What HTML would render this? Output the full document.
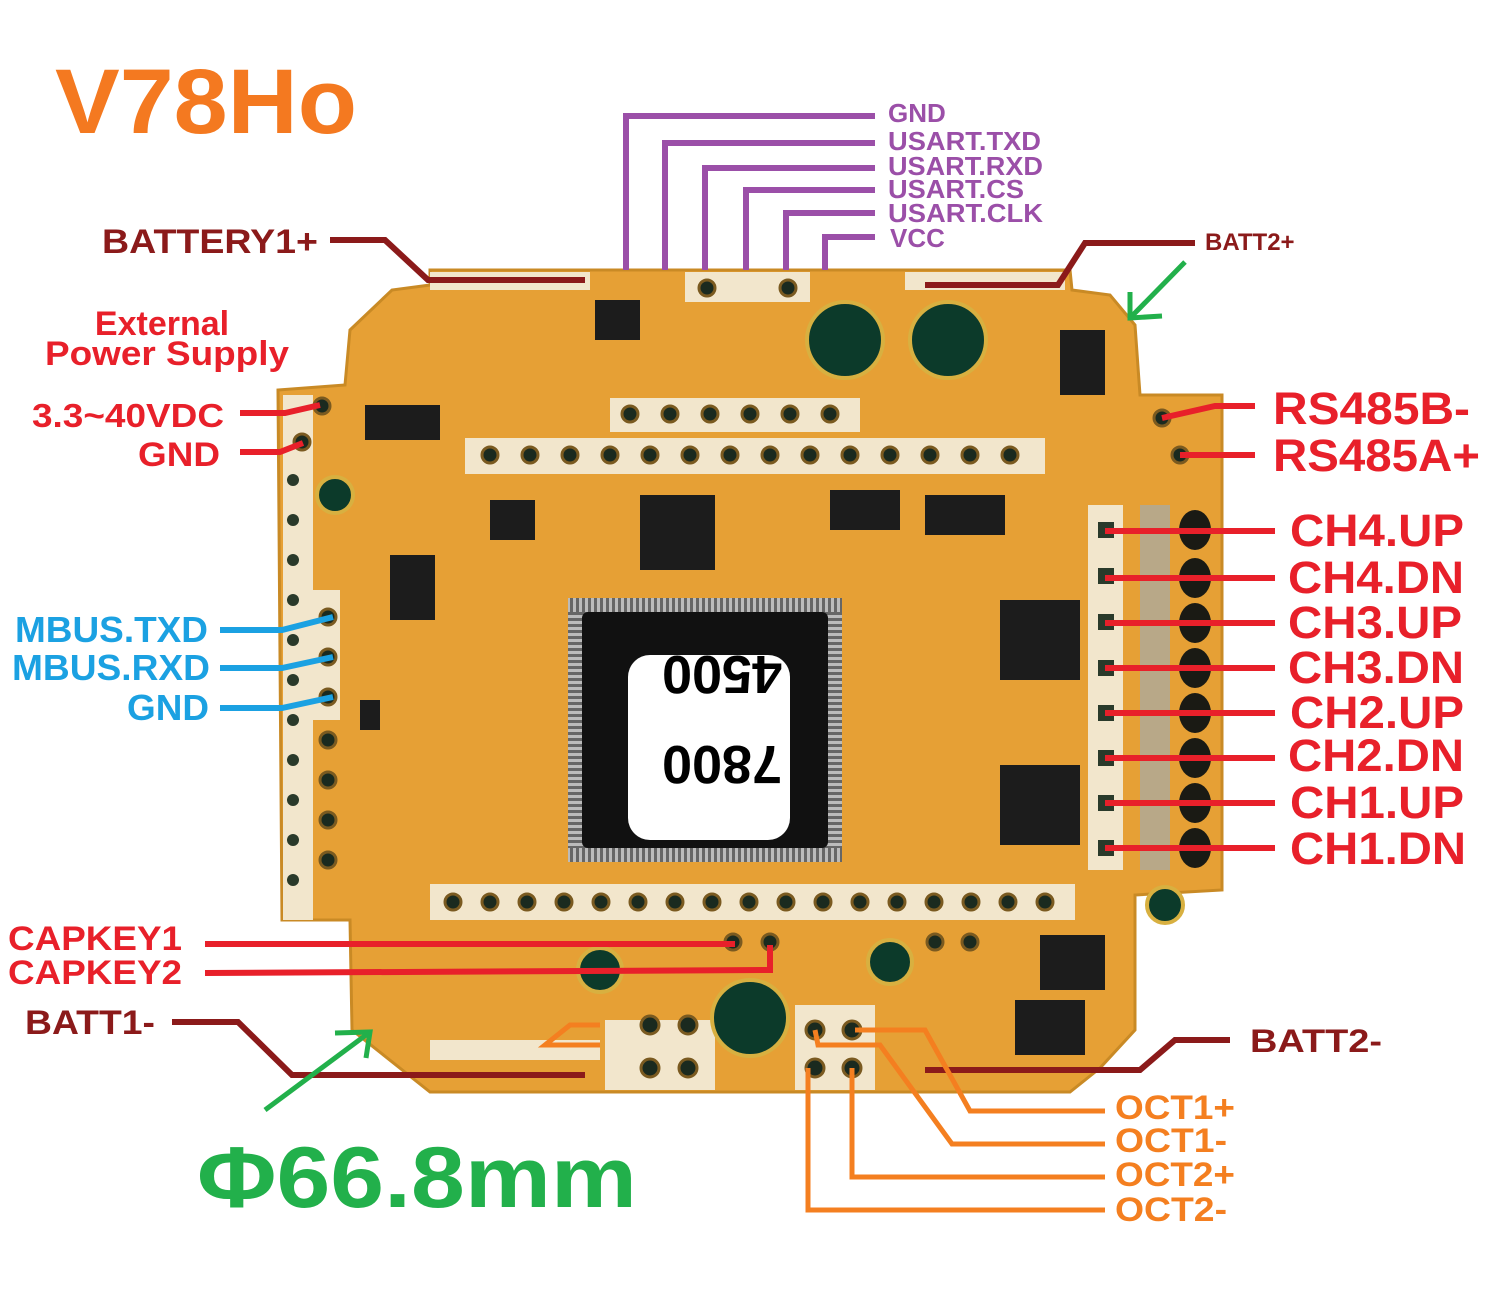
<!DOCTYPE html>
<html><head><meta charset="utf-8"><style>
html,body{margin:0;padding:0;background:#fff;}
svg{display:block;}
text{font-family:"Liberation Sans",sans-serif;font-weight:bold;}
</style></head><body>
<svg width="1495" height="1314" viewBox="0 0 1495 1314" xmlns="http://www.w3.org/2000/svg">
<defs>
<pattern id="pins" width="6" height="6" patternUnits="userSpaceOnUse"><rect width="6" height="6" fill="#bbb"/><rect width="3" height="6" fill="#666"/></pattern>
<pattern id="pinsv" width="6" height="6" patternUnits="userSpaceOnUse"><rect width="6" height="6" fill="#bbb"/><rect width="6" height="3" fill="#666"/></pattern>
</defs>
<polygon points="430,270 1070,270 1072,290 1110,295 1135,325 1140,395 1222,395 1222,890 1135,895 1135,1030 1100,1068 1070,1092 430,1092 352,1030 350,920 282,920 278,390 345,385 350,330 392,290 430,285" fill="#E6A035" stroke="#c98a25" stroke-width="3"/>
<g fill="#F2E6CC">
<rect x="430" y="272" width="160" height="18"/>
<rect x="685" y="272" width="125" height="30"/>
<rect x="905" y="272" width="160" height="18"/>
<rect x="610" y="398" width="250" height="34"/>
<rect x="465" y="438" width="580" height="36"/>
<rect x="430" y="884" width="645" height="36"/>
<rect x="283" y="395" width="30" height="525"/>
<rect x="310" y="590" width="30" height="130"/>
<rect x="1088" y="505" width="35" height="365"/>
<rect x="1140" y="505" width="30" height="365" fill="#B8A888"/>
<rect x="605" y="1020" width="110" height="70"/>
<rect x="795" y="1005" width="80" height="85"/>
<rect x="430" y="1040" width="170" height="20"/>
</g>
<g fill="#1a2a1f" stroke="#7a5a20" stroke-width="3">
<circle cx="490" cy="455" r="8"/><circle cx="530" cy="455" r="8"/><circle cx="570" cy="455" r="8"/><circle cx="610" cy="455" r="8"/><circle cx="650" cy="455" r="8"/><circle cx="690" cy="455" r="8"/><circle cx="730" cy="455" r="8"/><circle cx="770" cy="455" r="8"/><circle cx="810" cy="455" r="8"/><circle cx="850" cy="455" r="8"/><circle cx="890" cy="455" r="8"/><circle cx="930" cy="455" r="8"/><circle cx="970" cy="455" r="8"/><circle cx="1010" cy="455" r="8"/>
<circle cx="630" cy="414" r="8"/><circle cx="670" cy="414" r="8"/><circle cx="710" cy="414" r="8"/><circle cx="750" cy="414" r="8"/><circle cx="790" cy="414" r="8"/><circle cx="830" cy="414" r="8"/>
<circle cx="453" cy="902" r="8"/><circle cx="490" cy="902" r="8"/><circle cx="527" cy="902" r="8"/><circle cx="564" cy="902" r="8"/><circle cx="601" cy="902" r="8"/><circle cx="638" cy="902" r="8"/><circle cx="675" cy="902" r="8"/><circle cx="712" cy="902" r="8"/><circle cx="749" cy="902" r="8"/><circle cx="786" cy="902" r="8"/><circle cx="823" cy="902" r="8"/><circle cx="860" cy="902" r="8"/><circle cx="897" cy="902" r="8"/><circle cx="934" cy="902" r="8"/><circle cx="971" cy="902" r="8"/><circle cx="1008" cy="902" r="8"/><circle cx="1045" cy="902" r="8"/>
<circle cx="733" cy="942" r="8"/><circle cx="770" cy="942" r="8"/><circle cx="935" cy="942" r="8"/><circle cx="970" cy="942" r="8"/>
<circle cx="707" cy="288" r="8"/><circle cx="788" cy="288" r="8"/>
<circle cx="322" cy="406" r="8"/><circle cx="302" cy="442" r="8"/>
<circle cx="1162" cy="418" r="8"/><circle cx="1180" cy="455" r="8"/>
<circle cx="328" cy="617" r="8"/><circle cx="328" cy="657" r="8"/><circle cx="328" cy="697" r="8"/><circle cx="328" cy="740" r="8"/><circle cx="328" cy="780" r="8"/><circle cx="328" cy="820" r="8"/><circle cx="328" cy="860" r="8"/>
<circle cx="650" cy="1025" r="9"/><circle cx="688" cy="1025" r="9"/><circle cx="815" cy="1030" r="9"/><circle cx="852" cy="1030" r="9"/>
<circle cx="650" cy="1068" r="9"/><circle cx="688" cy="1068" r="9"/><circle cx="815" cy="1068" r="9"/><circle cx="852" cy="1068" r="9"/>
</g>
<g fill="#2a3a2a">
<circle cx="293" cy="480" r="6"/><circle cx="293" cy="520" r="6"/><circle cx="293" cy="560" r="6"/><circle cx="293" cy="600" r="6"/><circle cx="293" cy="640" r="6"/><circle cx="293" cy="680" r="6"/><circle cx="293" cy="720" r="6"/><circle cx="293" cy="760" r="6"/><circle cx="293" cy="800" r="6"/><circle cx="293" cy="840" r="6"/><circle cx="293" cy="880" r="6"/>
<rect x="1098" y="522" width="16" height="16"/><rect x="1098" y="568" width="16" height="16"/><rect x="1098" y="614" width="16" height="16"/><rect x="1098" y="660" width="16" height="16"/><rect x="1098" y="705" width="16" height="16"/><rect x="1098" y="750" width="16" height="16"/><rect x="1098" y="795" width="16" height="16"/><rect x="1098" y="840" width="16" height="16"/>
</g>
<g fill="#1a1a14">
<ellipse cx="1195" cy="530" rx="16" ry="20"/><ellipse cx="1195" cy="578" rx="16" ry="20"/><ellipse cx="1195" cy="623" rx="16" ry="20"/><ellipse cx="1195" cy="668" rx="16" ry="20"/><ellipse cx="1195" cy="713" rx="16" ry="20"/><ellipse cx="1195" cy="758" rx="16" ry="20"/><ellipse cx="1195" cy="803" rx="16" ry="20"/><ellipse cx="1195" cy="848" rx="16" ry="20"/>
</g>
<g fill="#0c3a2a" stroke="#d8b040" stroke-width="4">
<circle cx="845" cy="340" r="38"/><circle cx="948" cy="340" r="38"/><circle cx="750" cy="1018" r="38"/>
<circle cx="335" cy="495" r="18"/><circle cx="600" cy="970" r="22"/><circle cx="890" cy="962" r="22"/><circle cx="1165" cy="905" r="18"/>
</g>
<g fill="#1c1c1c">
<rect x="365" y="405" width="75" height="35"/><rect x="640" y="495" width="75" height="75"/><rect x="830" y="490" width="70" height="40"/><rect x="925" y="495" width="80" height="40"/>
<rect x="1000" y="600" width="80" height="80"/><rect x="1000" y="765" width="80" height="80"/><rect x="1060" y="330" width="45" height="65"/>
<rect x="390" y="555" width="45" height="65"/><rect x="1040" y="935" width="65" height="55"/><rect x="1015" y="1000" width="70" height="55"/>
<rect x="490" y="500" width="45" height="40"/><rect x="595" y="300" width="45" height="40"/><rect x="360" y="700" width="20" height="30"/>
</g>
<rect x="568" y="598" width="274" height="264" fill="url(#pins)"/>
<rect x="568" y="612" width="274" height="236" fill="url(#pinsv)"/>
<rect x="582" y="612" width="246" height="236" rx="6" fill="#111"/>
<rect x="628" y="655" width="162" height="185" rx="22" fill="#fff"/>
<g transform="rotate(180 722 748)">
<text x="722" y="750" font-size="54" text-anchor="middle" fill="#000">7800</text>
<text x="722" y="840" font-size="54" text-anchor="middle" fill="#000">4500</text>
</g>
<g fill="none" stroke="#9B4FA8" stroke-width="6">
<polyline points="626,270 626,116 875,116"/>
<polyline points="665,270 665,143 875,143"/>
<polyline points="705,270 705,168 875,168"/>
<polyline points="746,270 746,190 875,190"/>
<polyline points="786,270 786,213 875,213"/>
<polyline points="825,270 825,237 875,237"/>
</g>
<g fill="#9B4FA8" font-size="26">
<text x="888" y="122">GND</text><text x="888" y="150" textLength="153" lengthAdjust="spacingAndGlyphs">USART.TXD</text><text x="888" y="175" textLength="155" lengthAdjust="spacingAndGlyphs">USART.RXD</text><text x="888" y="198" textLength="136" lengthAdjust="spacingAndGlyphs">USART.CS</text><text x="888" y="222" textLength="155" lengthAdjust="spacingAndGlyphs">USART.CLK</text><text x="890" y="247">VCC</text>
</g>
<g fill="none" stroke="#8B1A1A" stroke-width="6">
<polyline points="330,240 385,240 428,280 585,280"/>
<polyline points="1195,243 1085,243 1058,285 925,285"/>
<polyline points="172,1022 238,1022 292,1075 585,1075"/>
<polyline points="1230,1040 1175,1040 1140,1070 925,1070"/>
</g>
<g fill="#8B1A1A">
<text x="102" y="253" font-size="34" textLength="216" lengthAdjust="spacingAndGlyphs">BATTERY1+</text>
<text x="1205" y="250" font-size="24">BATT2+</text>
<text x="25" y="1034" font-size="34" textLength="130" lengthAdjust="spacingAndGlyphs">BATT1-</text>
<text x="1250" y="1052" font-size="32" textLength="132" lengthAdjust="spacingAndGlyphs">BATT2-</text>
</g>
<g fill="none" stroke="#E8202A" stroke-width="6">
<polyline points="240,413 285,413 320,405"/>
<polyline points="240,452 280,452 303,443"/>
<polyline points="1255,406 1215,406 1162,418"/>
<polyline points="1255,455 1180,455"/>
<line x1="1275" y1="531" x2="1105" y2="531"/><line x1="1275" y1="578" x2="1105" y2="578"/><line x1="1275" y1="623" x2="1105" y2="623"/><line x1="1275" y1="668" x2="1105" y2="668"/><line x1="1275" y1="713" x2="1105" y2="713"/><line x1="1275" y1="758" x2="1105" y2="758"/><line x1="1275" y1="803" x2="1105" y2="803"/><line x1="1275" y1="848" x2="1105" y2="848"/>
<line x1="205" y1="944" x2="735" y2="944"/>
<polyline points="205,973 770,970 770,945"/>
</g>
<g fill="#E8202A">
<text x="162" y="335" font-size="34" text-anchor="middle">External</text>
<text x="167" y="365" font-size="34" text-anchor="middle" textLength="244" lengthAdjust="spacingAndGlyphs">Power Supply</text>
<text x="32" y="427" font-size="33" textLength="192" lengthAdjust="spacingAndGlyphs">3.3~40VDC</text>
<text x="138" y="466" font-size="34" textLength="82" lengthAdjust="spacingAndGlyphs">GND</text>
<text x="1273" y="424" font-size="45" textLength="197" lengthAdjust="spacingAndGlyphs">RS485B-</text>
<text x="1273" y="471" font-size="45" textLength="207" lengthAdjust="spacingAndGlyphs">RS485A+</text>
<text x="1290" y="546" font-size="45" textLength="174" lengthAdjust="spacingAndGlyphs">CH4.UP</text><text x="1288" y="593" font-size="45" textLength="176" lengthAdjust="spacingAndGlyphs">CH4.DN</text><text x="1288" y="638" font-size="45" textLength="174" lengthAdjust="spacingAndGlyphs">CH3.UP</text><text x="1288" y="683" font-size="45" textLength="176" lengthAdjust="spacingAndGlyphs">CH3.DN</text><text x="1290" y="728" font-size="45" textLength="174" lengthAdjust="spacingAndGlyphs">CH2.UP</text><text x="1288" y="771" font-size="45" textLength="176" lengthAdjust="spacingAndGlyphs">CH2.DN</text><text x="1290" y="818" font-size="45" textLength="174" lengthAdjust="spacingAndGlyphs">CH1.UP</text><text x="1290" y="864" font-size="45" textLength="176" lengthAdjust="spacingAndGlyphs">CH1.DN</text>
<text x="8" y="950" font-size="34" textLength="174" lengthAdjust="spacingAndGlyphs">CAPKEY1</text>
<text x="8" y="984" font-size="34" textLength="174" lengthAdjust="spacingAndGlyphs">CAPKEY2</text>
</g>
<g fill="none" stroke="#1BA1E2" stroke-width="6">
<polyline points="220,630 282,630 333,617"/>
<polyline points="220,668 282,668 333,657"/>
<polyline points="220,708 282,708 333,697"/>
</g>
<g fill="#1BA1E2" font-size="36">
<text x="15" y="642" textLength="193" lengthAdjust="spacingAndGlyphs">MBUS.TXD</text><text x="12" y="680" textLength="198" lengthAdjust="spacingAndGlyphs">MBUS.RXD</text><text x="127" y="720" textLength="82" lengthAdjust="spacingAndGlyphs">GND</text>
</g>
<g fill="none" stroke="#F47F20" stroke-width="5">
<polyline points="1105,1111 970,1111 925,1030 855,1030"/>
<polyline points="1105,1144 952,1144 880,1045 818,1045 815,1030"/>
<polyline points="1105,1177 852,1177 852,1068"/>
<polyline points="1105,1210 808,1210 808,1068"/>
<polyline points="600,1025 570,1025 545,1045 600,1045"/>
</g>
<g fill="#F47F20" font-size="34">
<text x="1115" y="1119" textLength="120" lengthAdjust="spacingAndGlyphs">OCT1+</text><text x="1115" y="1152" textLength="112" lengthAdjust="spacingAndGlyphs">OCT1-</text><text x="1115" y="1186" textLength="120" lengthAdjust="spacingAndGlyphs">OCT2+</text><text x="1115" y="1221" textLength="112" lengthAdjust="spacingAndGlyphs">OCT2-</text>
</g>
<g fill="none" stroke="#22B04B" stroke-width="5">
<line x1="1185" y1="262" x2="1130" y2="318"/><polyline points="1130,292 1130,318 1162,316"/>
<line x1="265" y1="1110" x2="370" y2="1032"/><polyline points="335,1033 370,1032 366,1058"/>
</g>
<text x="197" y="1207" font-size="86" fill="#22B04B" textLength="440" lengthAdjust="spacingAndGlyphs">Φ66.8mm</text>
<text x="55" y="133" font-size="92" fill="#F47920" textLength="302" lengthAdjust="spacingAndGlyphs">V78Ho</text>
</svg>
</body></html>
